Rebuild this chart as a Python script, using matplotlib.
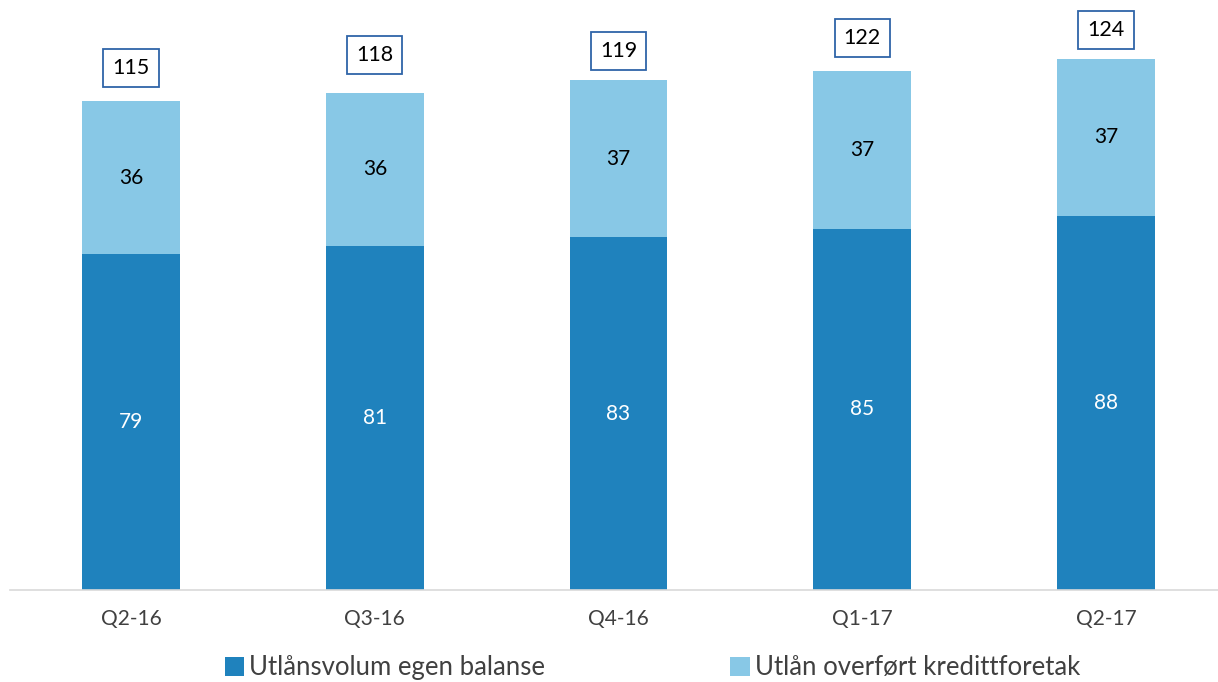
import matplotlib.pyplot as plt
import numpy as np

plt.rcParams['font.family'] = ['Lato', 'DejaVu Sans']

kvartal = ["Q2-16", "Q3-16", "Q4-16", "Q1-17", "Q2-17"]
egen_balanse = [79, 81, 83, 85, 88]
kredittforetak = [36, 36, 37, 37, 37]
totalt = [115, 118, 119, 122, 124]

mork = "#1F82BD"
lys = "#88C8E6"

fig = plt.figure(figsize=(12.18, 6.82), dpi=100)
ax = fig.add_axes([10/1218, 92/682, 1208/1218, 590/682])

x = np.arange(len(kvartal))
b1 = ax.bar(x, egen_balanse, width=0.4, color=mork, label="Utlånsvolum egen balanse")
b2 = ax.bar(x, kredittforetak, width=0.4, bottom=egen_balanse, color=lys,
            label="Utlån overført kredittforetak")

for i in range(len(x)):
    ax.text(x[i], egen_balanse[i] / 2, str(egen_balanse[i]), ha="center", va="center",
            color="white", fontsize=15)
    ax.text(x[i], egen_balanse[i] + kredittforetak[i] / 2, str(kredittforetak[i]),
            ha="center", va="center", color="black", fontsize=15)
    ax.text(x[i], totalt[i] + 7.8, str(totalt[i]), ha="center", va="center",
            color="black", fontsize=15.5,
            bbox=dict(boxstyle="square,pad=0.42", fc="white", ec="#2F64A8", lw=1.3))

ax.set_xlim(-0.497, 4.46)
ax.set_ylim(0, 138.8)
ax.set_xticks(x)
ax.set_xticklabels(kvartal, fontsize=15, color="#404040")
ax.tick_params(axis="x", length=0, pad=14)
ax.set_yticks([])
for s in ["top", "right", "left"]:
    ax.spines[s].set_visible(False)
ax.spines["bottom"].set_color("#D9D9D9")
ax.spines["bottom"].set_linewidth(1.2)

leg = ax.legend(loc="center", bbox_to_anchor=(0.532, -0.132), ncol=2, frameon=False,
                fontsize=18.5, handlelength=0.75, handleheight=0.75, handletextpad=0.2,
                columnspacing=7.2, labelcolor="#404040")

fig.savefig("out.png", dpi=100)
